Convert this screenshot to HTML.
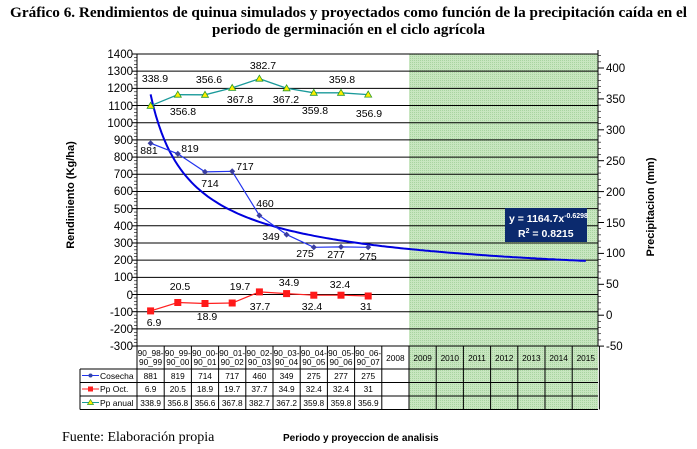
<!DOCTYPE html>
<html><head><meta charset="utf-8"><style>
html,body{margin:0;padding:0;background:#fff;}
svg{display:block;font-family:"Liberation Sans",Arial,sans-serif;}
</style></head><body>
<svg id="s" width="697" height="449" viewBox="0 0 697 449" xmlns="http://www.w3.org/2000/svg">
<defs>
<pattern id="dots" width="2" height="2" patternUnits="userSpaceOnUse">
<rect width="2" height="2" fill="#c8e6c0"/><rect width="1" height="1" fill="#a8d4a0"/>
</pattern>
</defs>
<text x="10" y="17" font-family="Liberation Serif,serif" font-weight="bold" font-size="15" textLength="677" lengthAdjust="spacingAndGlyphs">Gráfico 6. Rendimientos de quinua simulados y proyectados como función de la precipitación caída en el</text>
<text x="212" y="34" font-family="Liberation Serif,serif" font-weight="bold" font-size="15" textLength="273" lengthAdjust="spacingAndGlyphs">periodo de germinación en el ciclo agrícola</text>

<rect x="409" y="54" width="189" height="355.5" fill="url(#dots)"/>
<g id="grid" stroke="#000" stroke-width="1"></g>
<g id="tbl" stroke="#000" stroke-width="1" fill="none"></g>

<g font-size="11.5" text-anchor="end">
<text x="133" y="58">1400</text><text x="133" y="75">1300</text><text x="133" y="92">1200</text><text x="133" y="110">1100</text><text x="133" y="127">1000</text><text x="133" y="144">900</text><text x="133" y="161">800</text><text x="133" y="178">700</text><text x="133" y="195">600</text><text x="133" y="213">500</text><text x="133" y="230">400</text><text x="133" y="247">300</text><text x="133" y="264">200</text><text x="133" y="281">100</text><text x="133" y="299">0</text><text x="133" y="316">-100</text><text x="133" y="333">-200</text><text x="133" y="350">-300</text>
</g>
<g font-size="11.5">
<text x="606" y="72">400</text><text x="606" y="103">350</text><text x="606" y="134">300</text><text x="606" y="165">250</text><text x="606" y="196">200</text><text x="606" y="227">150</text><text x="606" y="257">100</text><text x="606" y="288">50</text><text x="606" y="319">0</text><text x="606" y="350">-50</text>
</g>
<text transform="translate(74,195) rotate(-90)" font-size="11" font-weight="bold" text-anchor="middle">Rendimiento (Kg/ha)</text>
<text transform="translate(654,207) rotate(-90)" font-size="11" font-weight="bold" text-anchor="middle">Precipitacion (mm)</text>

<path id="curve" fill="none" stroke="#0000dd" stroke-width="2"/>
<polyline points="150.6,105.8 177.8,94.7 205,94.8 232.2,87.9 259.4,78.7 286.6,88.3 313.8,92.8 341,92.8 368.2,94.6" fill="none" stroke="#1a9a9a" stroke-width="1.3"/>
<polyline points="150.6,143.2 177.8,153.8 205,171.9 232.2,171.3 259.4,215.5 286.6,234.6 313.8,247.3 341,246.9 368.2,247.3" fill="none" stroke="#2233ee" stroke-width="1.2"/>
<polyline points="150.6,310.9 177.8,302.5 205,303.5 232.2,303 259.4,291.9 286.6,293.6 313.8,295.2 341,295.2 368.2,296" fill="none" stroke="#ff2020" stroke-width="1.2"/>
<g id="marks"></g>

<g font-size="10.5" text-anchor="middle">
<text x="155" y="82">338.9</text><text x="183" y="115">356.8</text><text x="209" y="83">356.6</text><text x="240" y="103">367.8</text><text x="263" y="69">382.7</text><text x="286" y="103">367.2</text><text x="315" y="114">359.8</text><text x="342" y="83">359.8</text><text x="369" y="117">356.9</text>
<text x="149" y="154">881</text><text x="190" y="152">819</text><text x="210" y="187">714</text><text x="245" y="170">717</text><text x="265" y="207">460</text><text x="271" y="240">349</text><text x="305" y="257">275</text><text x="336" y="258">277</text><text x="368" y="260">275</text>
<text x="154" y="326">6.9</text><text x="180" y="290">20.5</text><text x="207" y="320">18.9</text><text x="240" y="290">19.7</text><text x="260" y="310">37.7</text><text x="289" y="286">34.9</text><text x="312" y="310">32.4</text><text x="340" y="288">32.4</text><text x="366" y="310">31</text>
</g>

<rect x="505" y="208" width="82" height="34" fill="#0b2a6e"/>
<text x="509" y="222" font-size="10.5" font-weight="bold" fill="#fff">y = 1164.7x<tspan font-size="7" dy="-4">-0.6298</tspan></text>
<text x="518" y="237" font-size="10.5" font-weight="bold" fill="#fff">R<tspan font-size="7" dy="-4">2</tspan><tspan dy="4"> = 0.8215</tspan></text>

<g font-size="8.3" text-anchor="middle">
<text x="150.6" y="356">90_98-</text><text x="150.6" y="365">90_99</text>
<text x="177.8" y="356">90_99-</text><text x="177.8" y="365">90_00</text>
<text x="205" y="356">90_00-</text><text x="205" y="365">90_01</text>
<text x="232.2" y="356">90_01-</text><text x="232.2" y="365">90_02</text>
<text x="259.4" y="356">90_02-</text><text x="259.4" y="365">90_03</text>
<text x="286.6" y="356">90_03-</text><text x="286.6" y="365">90_04</text>
<text x="313.8" y="356">90_04-</text><text x="313.8" y="365">90_05</text>
<text x="341" y="356">90_05-</text><text x="341" y="365">90_06</text>
<text x="368.2" y="356">90_06-</text><text x="368.2" y="365">90_07</text>
<text x="395.4" y="361">2008</text><text x="422.6" y="361">2009</text><text x="449.8" y="361">2010</text><text x="477" y="361">2011</text><text x="504.2" y="361">2012</text><text x="531.4" y="361">2013</text><text x="558.6" y="361">2014</text><text x="585.8" y="361">2015</text>
<text x="150.6" y="379">881</text><text x="177.8" y="379">819</text><text x="205" y="379">714</text><text x="232.2" y="379">717</text><text x="259.4" y="379">460</text><text x="286.6" y="379">349</text><text x="313.8" y="379">275</text><text x="341" y="379">277</text><text x="368.2" y="379">275</text>
<text x="150.6" y="392">6.9</text><text x="177.8" y="392">20.5</text><text x="205" y="392">18.9</text><text x="232.2" y="392">19.7</text><text x="259.4" y="392">37.7</text><text x="286.6" y="392">34.9</text><text x="313.8" y="392">32.4</text><text x="341" y="392">32.4</text><text x="368.2" y="392">31</text>
<text x="150.6" y="406">338.9</text><text x="177.8" y="406">356.8</text><text x="205" y="406">356.6</text><text x="232.2" y="406">367.8</text><text x="259.4" y="406">382.7</text><text x="286.6" y="406">367.2</text><text x="313.8" y="406">359.8</text><text x="341" y="406">359.8</text><text x="368.2" y="406">356.9</text>
</g>
<g font-size="8.5">
<text x="100" y="379">Cosecha</text><text x="100" y="392">Pp Oct.</text><text x="100" y="406">Pp anual</text>
</g>
<line x1="82" y1="375.5" x2="99" y2="375.5" stroke="#2233ee"/><circle cx="90.5" cy="375.5" r="2" fill="#3344aa"/>
<line x1="82" y1="389" x2="99" y2="389" stroke="#ff2020"/><rect x="88" y="386.5" width="5" height="5" fill="#ff2020"/>
<line x1="82" y1="402.5" x2="99" y2="402.5" stroke="#1a9a9a"/><path d="M90.5 399.5 L93.5 404.5 L87.5 404.5Z" fill="#ffee00" stroke="#2a9a2a" stroke-width="0.7"/>

<text x="62" y="441" font-family="Liberation Serif,serif" font-size="14">Fuente: Elaboración propia</text>
<text x="283" y="441" font-size="10" font-weight="bold">Periodo y proyeccion de analisis</text>
</svg>
<script>
(function(){
var NS="http://www.w3.org/2000/svg";
function el(p,t,a){var e=document.createElementNS(NS,t);for(var k in a)e.setAttribute(k,a[k]);p.appendChild(e);return e;}
var g=document.getElementById('grid');
for(var v=-300;v<=1400;v+=100){var y=54+(1400-v)*0.1718;el(g,'line',{x1:137,x2:598,y1:y,y2:y});el(g,'line',{x1:132,x2:137,y1:y,y2:y});
 for(var m=1;m<5;m++){var ym=y+m*0.1718*20;if(v>-300)continue;}}
for(var v=-300;v<1400;v+=20){var y=54+(1400-v)*0.1718;el(g,'line',{x1:134,x2:137,y1:y,y2:y,'stroke-width':0.6});}
for(var v=-50;v<=420;v+=10){var y=68+(400-v)*0.618;if(y<54)continue;el(g,'line',{x1:598,x2:v%50==0?604:601,y1:y,y2:y,'stroke-width':v%50==0?1:0.6});}
el(g,'line',{x1:137,x2:137,y1:54,y2:346});el(g,'line',{x1:598,x2:598,y1:50,y2:346});
var t=document.getElementById('tbl');
var ys=[346,369,382.5,396,409.5];
for(var i=0;i<ys.length;i++)el(t,'line',{x1:i==0?137:80,x2:598,y1:ys[i],y2:ys[i]});
for(var k=0;k<=17;k++){var x=137+27.2*k;el(t,'line',{x1:x,x2:x,y1:346,y2:409.5});}
el(t,'line',{x1:80,x2:80,y1:369,y2:409.5});
var d='';for(var x=1;x<=17;x+=0.1){var px=137+27.2*(x-0.5),py=54+(1400-1164.7*Math.pow(x,-0.6298))*0.1718;d+=(d?'L':'M')+px.toFixed(1)+' '+py.toFixed(1);}
document.getElementById('curve').setAttribute('d',d);
var mk=document.getElementById('marks');
var cx=[150.6,177.8,205,232.2,259.4,286.6,313.8,341,368.2];
var a=[105.8,94.7,94.8,87.9,78.7,88.3,92.8,92.8,94.6],c=[143.2,153.8,171.9,171.3,215.5,234.6,247.3,246.9,247.3],p=[310.9,302.5,303.5,303,291.9,293.6,295.2,295.2,296];
for(var i=0;i<9;i++){var x=cx[i];
el(mk,'path',{d:'M'+x+' '+(a[i]-3.5)+'L'+(x+3.5)+' '+(a[i]+2.5)+'L'+(x-3.5)+' '+(a[i]+2.5)+'Z',fill:'#ffee00',stroke:'#2a9a2a','stroke-width':0.8});
el(mk,'path',{d:'M'+x+' '+(c[i]-3)+'L'+(x+3)+' '+c[i]+'L'+x+' '+(c[i]+3)+'L'+(x-3)+' '+c[i]+'Z',fill:'#3a3ea0'});
el(mk,'rect',{x:x-3.5,y:p[i]-3.5,width:7,height:7,fill:'#ff1a1a'});}
})();
</script>
</body></html>
